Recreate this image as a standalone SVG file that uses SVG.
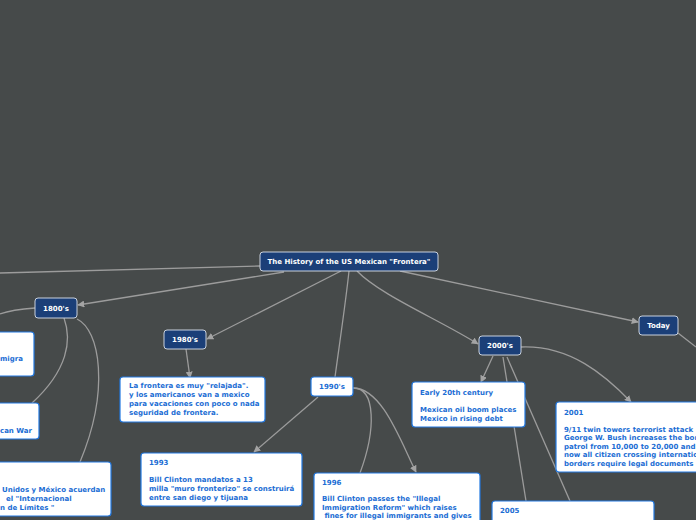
<svg xmlns="http://www.w3.org/2000/svg" width="696" height="520" viewBox="0 0 696 520">
<defs>
<marker id="ah" viewBox="0 0 10 10" refX="9" refY="5" markerWidth="7" markerHeight="7" markerUnits="userSpaceOnUse" orient="auto">
<path d="M0,0 L10,5 L0,10 z" fill="#a4a4a4"/>
</marker>
<style>
.bg{fill:#464a4a}
.c{fill:none;stroke:#9c9c9c;stroke-width:1.3}
.a{marker-end:url(#ah)}
.dn rect{fill:#1b3f78;stroke:#c9d1dd;stroke-width:1}
.dn text{fill:#ffffff;font-family:"DejaVu Sans",Verdana,sans-serif;font-weight:bold;font-size:7px;text-anchor:middle}
.wn rect{fill:#ffffff;stroke:#2279e2;stroke-width:1.2}
.wn text{fill:#1b6dd4;font-family:"DejaVu Sans",Verdana,sans-serif;font-weight:bold;font-size:7px}
.wn text.m{text-anchor:middle}
</style>
</defs>
<rect class="bg" x="0" y="0" width="696" height="520"/>
<g id="connectors">
<path class="c" d="M260,266 L0,273"/>
<path class="c a" d="M284,272 L78,305"/>
<path class="c a" d="M341,271 L207,339"/>
<path class="c" d="M349,271 C346,300 340,340 335,377"/>
<path class="c a" d="M357,271 C380,295 440,320 478,344"/>
<path class="c a" d="M400,271 L638,322"/>
<path class="c" d="M35,308 C20,309 8,311 0,314"/>
<path class="c" d="M64,318 C72,340 68,370 32,403"/>
<path class="c" d="M77,319 C100,330 110,390 80,462"/>
<path class="c a" d="M186,349 L190,378"/>
<path class="c a" d="M318,397 L254,452"/>
<path class="c" d="M353,388 C376,388 376,430 360,473"/>
<path class="c a" d="M353,388 C382,388 400,440 416,472"/>
<path class="c a" d="M493,356 L481,382"/>
<path class="c" d="M503,357 L526,501"/>
<path class="c" d="M507,357 L570,501"/>
<path class="c a" d="M521,347 C570,345 605,375 631,402"/>
<path class="c" d="M678,333 L696,347"/>
</g>
<g id="title" class="dn"><rect x="260" y="252" width="178" height="19" rx="3"/><text x="349" y="264">The History of the US Mexican "Frontera"</text></g>
<g id="n1800" class="dn"><rect x="35" y="298" width="42" height="20" rx="3"/><text x="56" y="310.5">1800's</text></g>
<g id="n1980" class="dn"><rect x="164" y="330" width="42" height="19" rx="3"/><text x="185" y="342">1980's</text></g>
<g id="n2000" class="dn"><rect x="479" y="336" width="42" height="19" rx="3"/><text x="500" y="348">2000's</text></g>
<g id="today" class="dn"><rect x="639" y="316" width="39" height="19" rx="3"/><text x="658.5" y="328">Today</text></g>
<g id="n1990" class="wn"><rect x="311" y="377" width="42" height="19" rx="3"/><text class="m" x="332" y="389">1990's</text></g>
<g id="left1" class="wn"><rect x="-10" y="332" width="44" height="44" rx="3"/><text x="0" y="361">migra</text></g>
<g id="left2" class="wn"><rect x="-10" y="403" width="49" height="36" rx="3"/><text x="0" y="433">can War</text></g>
<g id="left3" class="wn"><rect x="-10" y="462" width="121" height="54" rx="3"/><text x="2" y="492">Unidos y México acuerdan</text><text x="6" y="501">el "Internacional</text><text x="0" y="510">n de Límites "</text></g>
<g id="t1980" class="wn"><rect x="120" y="377" width="145" height="45" rx="3"/><text x="129" y="388">La frontera es muy "relajada".</text><text x="129" y="397">y los americanos van a mexico</text><text x="129" y="406">para vacaciones con poco o nada</text><text x="129" y="415">seguridad de frontera.</text></g>
<g id="t1993" class="wn"><rect x="141" y="453" width="161" height="53" rx="3"/><text x="149" y="465">1993</text><text x="149" y="482">Bill Clinton mandatos a 13</text><text x="149" y="490.5">milla "muro fronterizo" se construirá</text><text x="149" y="499.5">entre san diego y tijuana</text></g>
<g id="t1996" class="wn"><rect x="314" y="473" width="166" height="55" rx="3"/><text x="322" y="484.5">1996</text><text x="322" y="501">Bill Clinton passes the "Illegal</text><text x="322" y="509.5">Immigration Reform" which raises</text><text x="322" y="518" xml:space="preserve"> fines for illegal immigrants and gives</text></g>
<g id="tearly" class="wn"><rect x="412" y="382" width="113" height="45" rx="3"/><text x="420" y="394.5">Early 20th century</text><text x="420" y="412">Mexican oil boom places</text><text x="420" y="420.5">Mexico in rising debt</text></g>
<g id="t2001" class="wn"><rect x="556" y="402" width="150" height="70" rx="3"/><text x="564" y="414.5">2001</text><text x="564" y="431.5">9/11 twin towers terrorist attack</text><text x="564" y="440">George W. Bush increases the bor</text><text x="564" y="448.5">patrol from 10,000 to 20,000 and</text><text x="564" y="457">now all citizen crossing internatio</text><text x="564" y="465.5">borders require legal documents</text></g>
<g id="t2005" class="wn"><rect x="492" y="501" width="162" height="30" rx="3"/><text x="500" y="513">2005</text></g>
</svg>
